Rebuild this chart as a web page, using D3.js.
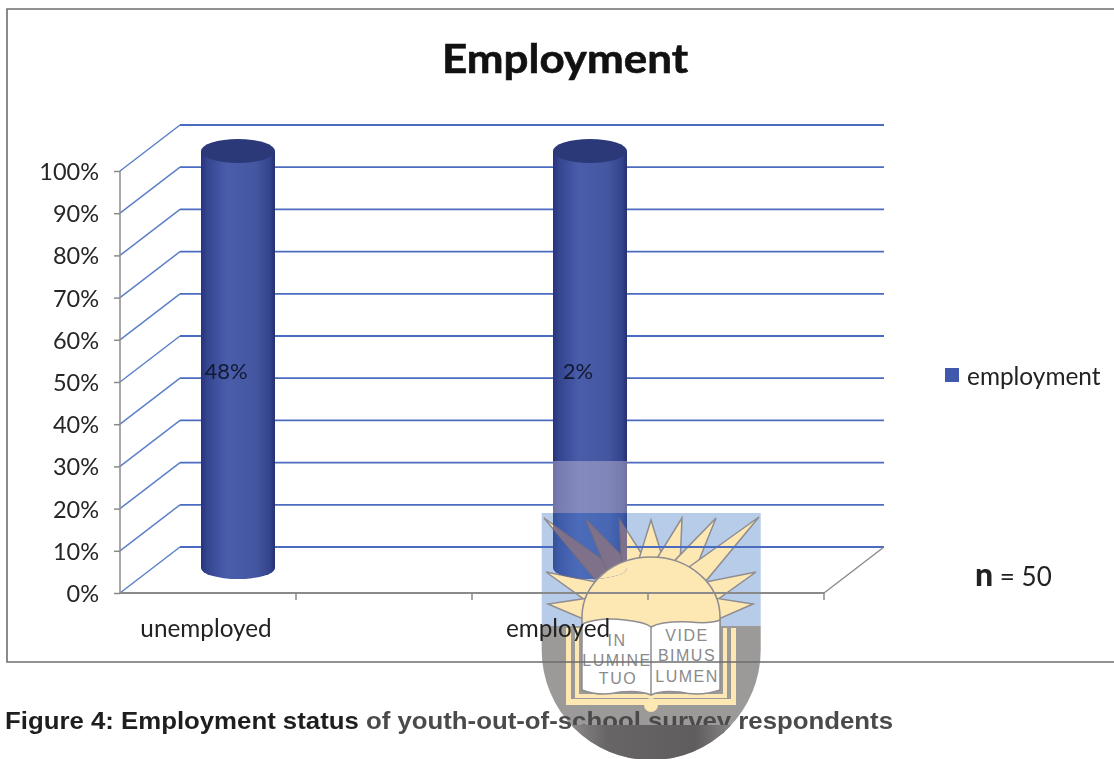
<!DOCTYPE html>
<html>
<head>
<meta charset="utf-8">
<script src="https://cdnjs.cloudflare.com/ajax/libs/d3/7.8.5/d3.min.js"></script>
<style>
	html, body { margin:0; padding:0; background:#fff; overflow:hidden; }
	svg { filter:blur(.45px); }
	text { font-family:Lato, "Open Sans", sans-serif; fill:#222; }
</style>
</head>
<body>
<svg id="chart" width="1114" height="759"></svg>
<script>
// 100% stacked column: every drawn column is full height, labels carry the share
const categories = ['unemployed', ' ', 'employed', '  '];
const drawn_categories = ['unemployed', 'employed'];
const column_values = [100, 100];
const column_labels = ['48%', '2%'];
const y_ticks = [0, 10, 20, 30, 40, 50, 60, 70, 80, 90, 100];
const series_name = 'employment';
const ray_tips = [[544,518],[585,518],[619,518],[651,520],[682,518],[716,518],[759,517],[756,572],[753,604],[546,572],[548,604]];
const crest_left = [['IN',617,646],['LUMINE',617,666],['TUO',618,684]];
const crest_right = [['VIDE',687,641],['BIMUS',687,661],['LUMEN',687,682]];

const DEPTH_X = 60, DEPTH_Y = -46;
const GRID = '#4a6bbf', SIDE_GRID = '#5b80c9', AXIS = '#8a8a8a', FRAME = '#6e6e6e';

const svg = d3.select('#chart');
const x = d3.scaleBand().domain(categories).range([120, 824]);
const y = d3.scaleLinear().domain([0, 100]).range([593, 171]);

const defs = svg.append('defs');
const side = defs.append('linearGradient').attr('id', 'cyl-side');
[[0,'#25337a'],[.08,'#34448f'],[.35,'#4a5dab'],[.75,'#44569f'],[.94,'#33428c'],[1,'#232f70']].forEach(function(s) {
	side.append('stop').attr('offset', s[0]).attr('stop-color', s[1]);
});
const bottom_grad = defs.append('linearGradient').attr('id', 'shield-bottom');
[[0,'#a8a5a5'],[.3,'#676565'],[.7,'#5f5d5d'],[1,'#a8a5a5']].forEach(function(s) {
	bottom_grad.append('stop').attr('offset', s[0]).attr('stop-color', s[1]);
});
const SHIELD = 'M541.7,513 H760.7 V650 A109.5,110 0 0 1 541.7,650 Z';
defs.append('clipPath').attr('id', 'shield-clip').append('path').attr('d', SHIELD);

const dome = { cx:651, cy:617, rx:69, ry:60 };
const dome_path = function() {
	return `M${dome.cx - dome.rx},${dome.cy} A${dome.rx},${dome.ry} 0 0 1 ${dome.cx + dome.rx},${dome.cy} V640 H${dome.cx - dome.rx} Z`;
};
const ray_path = function(t) {
	const a = Math.atan2((t[1] - dome.cy) / dome.ry, (t[0] - dome.cx) / dome.rx);
	const w = 0.17;
	const p1 = [dome.cx + dome.rx * Math.cos(a - w), dome.cy + dome.ry * Math.sin(a - w)];
	const p2 = [dome.cx + dome.rx * Math.cos(a + w), dome.cy + dome.ry * Math.sin(a + w)];
	return `M${t[0]},${t[1]} L${p1[0]},${p1[1]} L${p2[0]},${p2[1]} Z`;
};

// crest, base layer
const crest = svg.append('g').attr('clip-path', 'url(#shield-clip)');
crest.append('rect').attr('x', 541).attr('y', 513).attr('width', 220).attr('height', 113).attr('fill', '#b7cce9');
crest.append('rect').attr('x', 541).attr('y', 626).attr('width', 220).attr('height', 140).attr('fill', '#9c9999');
crest.selectAll('.ray').data(ray_tips).enter().append('path')
	.attr('d', ray_path).attr('fill', '#fde7b3').attr('stroke', '#8f8d90').attr('stroke-width', 1.5);
crest.append('path').attr('d', dome_path()).attr('fill', '#fde7b3').attr('stroke', '#8f8d90').attr('stroke-width', 1.5);
crest.append('rect').attr('x', 566).attr('y', 628).attr('width', 170).attr('height', 77).attr('fill', '#fde7b3');
crest.append('rect').attr('x', 571).attr('y', 628).attr('width', 160).attr('height', 71).attr('fill', '#9c9999');
crest.append('rect').attr('x', 575).attr('y', 628).attr('width', 152).attr('height', 70).attr('fill', '#fde7b3');
crest.append('rect').attr('x', 579).attr('y', 628).attr('width', 144).attr('height', 66).attr('fill', '#9c9999');
crest.append('path')
	.attr('d', 'M582,624 Q600,617 625,620 Q645,622 651,627 Q662,621 690,622 Q710,624 720,620 V690 Q700,697 680,692 Q660,690 651,695 Q640,690 620,692 Q600,697 582,690 Z')
	.attr('fill', '#fff').attr('stroke', '#8f8d90').attr('stroke-width', 1.5);
crest.append('line').attr('x1', 651).attr('x2', 651).attr('y1', 627).attr('y2', 695).attr('stroke', '#8f8d90').attr('stroke-width', 1.5);
crest.append('circle').attr('cx', 651).attr('cy', 705).attr('r', 7).attr('fill', '#fde7b3');
crest.selectAll('.crest-word').data(crest_left.concat(crest_right)).enter().append('text')
	.text(function(d) { return d[0]; })
	.attr('x', function(d) { return d[1]; })
	.attr('y', function(d) { return d[2]; })
	.attr('text-anchor', 'middle')
	.style('font-family', '"Liberation Sans Narrow", "Liberation Sans", sans-serif')
	.style('font-size', '16px').style('letter-spacing', '1.5px').style('fill', '#8b898a');

// back wall gridlines and side wall
const grid = svg.append('g');
grid.selectAll('.grid-back').data(y_ticks).enter().append('line')
	.attr('x1', x.range()[0] + DEPTH_X).attr('x2', x.range()[1] + DEPTH_X)
	.attr('y1', function(d) { return y(d) + DEPTH_Y; }).attr('y2', function(d) { return y(d) + DEPTH_Y; })
	.attr('stroke', GRID).attr('stroke-width', 1.8);
grid.selectAll('.grid-side').data(y_ticks).enter().append('line')
	.attr('x1', x.range()[0]).attr('x2', x.range()[0] + DEPTH_X)
	.attr('y1', function(d) { return y(d); }).attr('y2', function(d) { return y(d) + DEPTH_Y; })
	.attr('stroke', SIDE_GRID).attr('stroke-width', 1.5);
grid.append('line')
	.attr('x1', x.range()[1]).attr('x2', x.range()[1] + DEPTH_X)
	.attr('y1', y(0)).attr('y2', y(0) + DEPTH_Y)
	.attr('stroke', AXIS).attr('stroke-width', 1.4);

// cylinders
const cx_of = function(c) { return x(c) + x.bandwidth() / 2 + DEPTH_X / 2; };
const CYL_RX = 37, CYL_RY = 12, CYL_BOTTOM_RY = 11, CYL_DY = DEPTH_Y / 2 + 3, CYL_BASE_DY = DEPTH_Y / 2 - 2;
const cylinder_path = function(d) {
	const cx = cx_of(d.cat), top = y(d.val) + CYL_DY, bot = y(0) + CYL_BASE_DY;
	return `M${cx - CYL_RX},${top} V${bot} A${CYL_RX},${CYL_BOTTOM_RY} 0 0 0 ${cx + CYL_RX},${bot} V${top} Z`;
};
const column_data = drawn_categories.map(function(c, i) { return { cat:c, val:column_values[i], label:column_labels[i] }; });
const cyl = svg.append('g');
cyl.selectAll('.cyl-side').data(column_data).enter().append('path')
	.attr('d', cylinder_path).attr('fill', 'url(#cyl-side)');
cyl.selectAll('.cyl-top').data(column_data).enter().append('ellipse')
	.attr('cx', function(d) { return cx_of(d.cat); })
	.attr('cy', function(d) { return y(d.val) + CYL_DY; })
	.attr('rx', CYL_RX).attr('ry', CYL_RY)
	.attr('fill', '#2c3978');

// crest showing through the employed cylinder
defs.append('clipPath').attr('id', 'cyl-clip').append('path').attr('d', cylinder_path(column_data[1]));
const over = svg.append('g').attr('clip-path', 'url(#cyl-clip)');
over.append('rect').attr('x', 541).attr('y', 461).attr('width', 220).attr('height', 52).attr('fill', '#c9c0d8').attr('opacity', .45);
over.append('rect').attr('x', 541).attr('y', 513).attr('width', 220).attr('height', 113).attr('fill', '#4f86d8').attr('opacity', .35);
over.selectAll('.ray2').data(ray_tips).enter().append('path')
	.attr('d', ray_path).attr('fill', '#7f7189').attr('stroke', '#6c6a80').attr('stroke-width', 1);
over.append('path').attr('d', dome_path()).attr('fill', '#fde7b3').attr('stroke', '#8f8d90').attr('stroke-width', 1.5);

// data labels
svg.selectAll('.col-label').data(column_data).enter().append('text')
	.text(function(d) { return d.label; })
	.attr('x', function(d) { return x(d.cat) + x.bandwidth() / 2 + 18; })
	.attr('y', y(50) - 3)
	.attr('text-anchor', 'middle')
	.style('font-size', '22px').style('fill', '#111a30');

// axes
const y_axis = d3.axisLeft(y).tickValues(y_ticks).tickSize(6).tickPadding(15).tickFormat(function(d) { return d + '%'; });
const y_g = svg.append('g').attr('transform', 'translate(120,0)').call(y_axis);
y_g.selectAll('.domain, line').attr('stroke', AXIS).attr('stroke-width', 1.5);
y_g.selectAll('.domain').attr('d', `M0,${y(100)} V${y(0)}`);
y_g.selectAll('text').style('font-family', 'Lato, sans-serif').style('font-size', '23.5px').style('fill', '#262626').attr('dy', '0.36em');

const x_axis = d3.axisBottom(x).tickSize(0).tickPadding(27);
const x_g = svg.append('g').attr('transform', `translate(0,${y(0)})`).call(x_axis);
x_g.selectAll('.domain').attr('d', `M${x.range()[0]},0 H${x.range()[1]}`).attr('stroke', AXIS).attr('stroke-width', 1.8);
x_g.selectAll('text').style('font-family', 'Lato, sans-serif').style('font-size', '24.3px').style('fill', '#222');
x_g.selectAll('.tick text').attr('dx', -2);
x_g.selectAll('.edge-tick').data(categories).enter().append('line')
	.attr('x1', function(d) { return x(d) + x.bandwidth(); })
	.attr('x2', function(d) { return x(d) + x.bandwidth(); })
	.attr('y1', 0).attr('y2', 7)
	.attr('stroke', AXIS).attr('stroke-width', 1.5);

// title, legend, note
svg.append('text').text('Employment')
	.attr('x', 565).attr('y', 73).attr('text-anchor', 'middle')
	.attr('textLength', 246).attr('lengthAdjust', 'spacingAndGlyphs')
	.style('font-size', '40px').style('font-weight', 700).style('fill', '#111')
	.style('stroke', '#111').style('stroke-width', .6);
svg.append('rect').attr('x', 945).attr('y', 368).attr('width', 14).attr('height', 14).attr('fill', '#4059ad');
svg.append('text').text(series_name)
	.attr('x', 967).attr('y', 385)
	.style('font-size', '24.4px').style('fill', '#222');
const note = svg.append('text').attr('x', 975).attr('y', 586).style('font-size', '26px').style('fill', '#222');
note.append('tspan').text('n').style('font-weight', 900).style('font-size', '32px');
note.append('tspan').text(' = 50');

// frame
const frame = svg.append('g').attr('fill', 'none').attr('stroke', FRAME);
frame.append('path').attr('d', 'M1114,9 H7 V662 H1114').attr('stroke-width', 1.6);

// caption
const caption = svg.append('text').attr('x', 5).attr('y', 729)
	.attr('textLength', 888).attr('lengthAdjust', 'spacingAndGlyphs')
	.style('font-family', '"Liberation Sans", Arial, sans-serif')
	.style('font-size', '24px').style('font-weight', 700);
caption.append('tspan').text('Figure 4: Employment status').style('fill', '#1e1e1e');
caption.append('tspan').text(' of youth-out-of-school survey respondents').style('fill', '#4a4a4a');

// lower crest sits over the caption
svg.append('rect').attr('clip-path', 'url(#shield-clip)')
	.attr('x', 541).attr('y', 725).attr('width', 220).attr('height', 40)
	.attr('fill', 'url(#shield-bottom)');
</script>
</body>
</html>
